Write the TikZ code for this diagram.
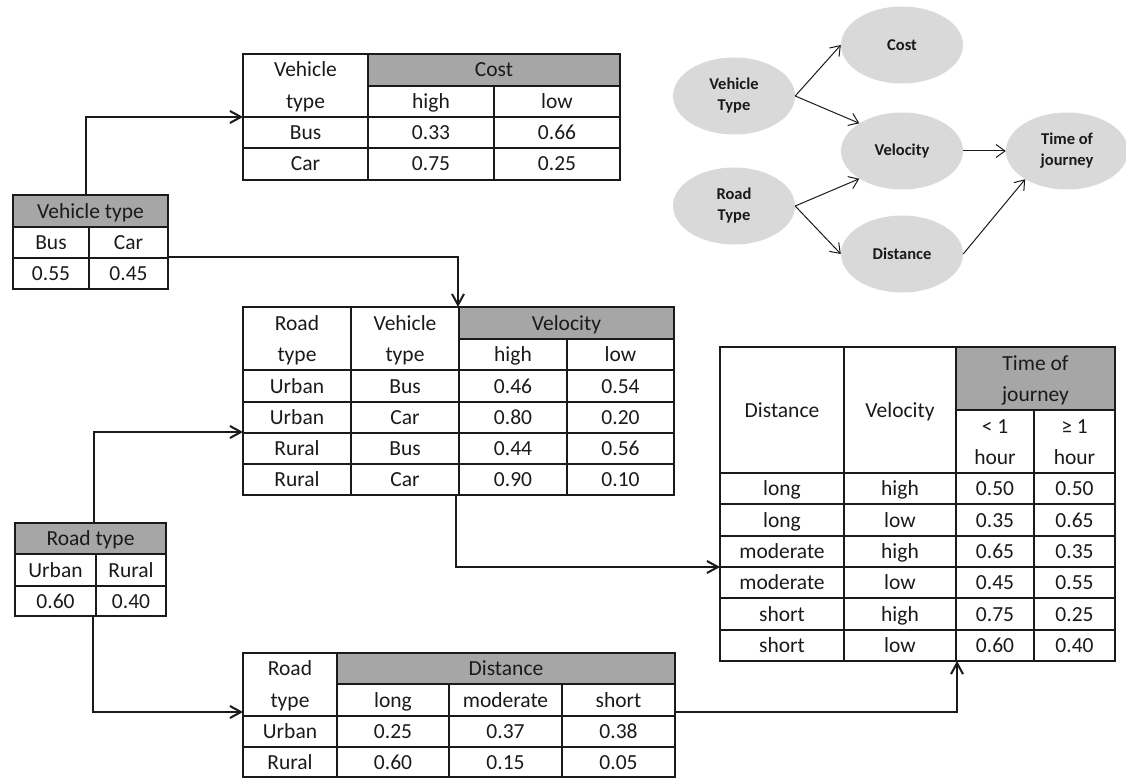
\documentclass[tikz,border=0pt]{standalone}
\usepackage{fontspec}
\setmainfont{Carlito}
\usetikzlibrary{arrows.meta,shapes.geometric}
\definecolor{ink}{HTML}{1A1A1A}
\definecolor{hdr}{HTML}{A6A6A6}
\definecolor{bubble}{HTML}{D9D9D9}
\newcommand{\tabfont}{\fontsize{21.5}{26}\selectfont}
\newcommand{\bubfont}{\fontsize{16.5}{21}\selectfont\bfseries}

\begin{document}
\begin{tikzpicture}[x=1pt,y=-1pt,
  txt/.style={anchor=base,yshift=-7pt,inner sep=0pt,font=\tabfont,text=ink},
  tabline/.style={draw=ink,line width=1.2pt},
  link/.style={ink,line width=2pt,-{Straight Barb[length=11pt,width=12pt]}},
  bub/.style={ellipse,fill=bubble,minimum width=122pt,minimum height=77pt,inner sep=0pt,align=center,font=\bubfont,text=ink},
  dep/.style={ink,line width=1pt,-{Straight Barb[length=9pt,width=13pt]}}]
\useasboundingbox (0,0) rectangle (1126,778);
\node[bub] (vtype) at (734,96) {Vehicle\\Type};\node[bub] (cost) at (902,45) {Cost};
\node[bub] (velo) at (902,151) {Velocity};\node[bub] (rtype) at (734,206) {Road\\Type};
\node[bub] (dist) at (902,254) {Distance};\node[bub] (time) at (1067,151) {Time of\\journey};
\draw[dep] (vtype.east)--(cost.west);\draw[dep] (vtype.east)--(velo.147);
\draw[dep] (rtype.east)--(velo.213);\draw[dep] (rtype.east)--(dist.west);
\draw[dep] (velo.east)--(time.west);\draw[dep] (dist.east)--(time.214);
\fill[hdr] (13,195) rectangle (168,227);
\draw[tabline] (13,195) rectangle (168,289) (13,227)--(168,227) (13,258)--(168,258) (89,227)--(89,289);
\node[txt] (vt-h) at (90.5,211) {Vehicle type};
\node[txt] (vt-bus) at (51,242.5) {Bus};\node[txt] (vt-car) at (128.5,242.5) {Car};
\node[txt] (vt-p1) at (51,273.5) {0.55};\node[txt] (vt-p2) at (128.5,273.5) {0.45};
\fill[hdr] (368,54) rectangle (620,86);
\draw[tabline] (243,54) rectangle (620,180) (368,54)--(368,180) (494,86)--(494,180) (368,86)--(620,86) (243,117)--(620,117) (243,148)--(620,148);
\node[txt] (c-h1) at (305.5,70) {Vehicle};\node[txt] (c-h2) at (305.5,101.5) {type};
\node[txt] (c-h) at (494,70) {Cost};\node[txt] (c-hi) at (431,101.5) {high};\node[txt] (c-lo) at (557,101.5) {low};
\foreach \y/\a/\b/\c [count=\r] in {132.5/Bus/0.33/0.66,164/Car/0.75/0.25}
  {\node[txt] (c\r-a) at (305.5,\y) {\a};\node[txt] (c\r-b) at (431,\y) {\b};\node[txt] (c\r-c) at (557,\y) {\c};}
\fill[hdr] (459,307) rectangle (674,339);
\draw[tabline] (243,307) rectangle (674,495) (351,307)--(351,495) (459,307)--(459,495) (567,339)--(567,495) (459,339)--(674,339);
\foreach \y in {370,402,433,464} \draw[tabline] (243,\y)--(674,\y);
\node[txt] (v-h1) at (297,323) {Road};\node[txt] (v-h2) at (297,354.5) {type};
\node[txt] (v-h3) at (405,323) {Vehicle};\node[txt] (v-h4) at (405,354.5) {type};
\node[txt] (v-h) at (566.5,323) {Velocity};\node[txt] (v-hi) at (513,354.5) {high};\node[txt] (v-lo) at (620.5,354.5) {low};
\foreach \y/\a/\b/\c/\d [count=\r] in {386/Urban/Bus/0.46/0.54,417.5/Urban/Car/0.80/0.20,448.5/Rural/Bus/0.44/0.56,479.5/Rural/Car/0.90/0.10}
  {\node[txt] (v\r-a) at (297,\y) {\a};\node[txt] (v\r-b) at (405,\y) {\b};\node[txt] (v\r-c) at (513,\y) {\c};\node[txt] (v\r-d) at (620.5,\y) {\d};}
\fill[hdr] (15,523) rectangle (166,554);
\draw[tabline] (15,523) rectangle (166,616) (15,554)--(166,554) (15,586)--(166,586) (96,554)--(96,616);
\node[txt] (rt-h) at (90.5,538.5) {Road type};
\node[txt] (rt-u) at (55.5,570) {Urban};\node[txt] (rt-r) at (131,570) {Rural};
\node[txt] (rt-p1) at (55.5,601) {0.60};\node[txt] (rt-p2) at (131,601) {0.40};
\fill[hdr] (337,653) rectangle (675,684);
\draw[tabline] (243,653) rectangle (675,777) (337,653)--(337,777) (449,684)--(449,777) (562,684)--(562,777) (337,684)--(675,684) (243,716)--(675,716) (243,747)--(675,747);
\node[txt] (d-h1) at (290,668.5) {Road};\node[txt] (d-h2) at (290,700) {type};\node[txt] (d-h) at (506,668.5) {Distance};
\node[txt] (d-lg) at (393,700) {long};\node[txt] (d-md) at (505.5,700) {moderate};\node[txt] (d-sh) at (618.5,700) {short};
\foreach \y/\a/\b/\c/\d [count=\r] in {731.5/Urban/0.25/0.37/0.38,762/Rural/0.60/0.15/0.05}
  {\node[txt] (d\r-a) at (290,\y) {\a};\node[txt] (d\r-b) at (393,\y) {\b};\node[txt] (d\r-c) at (505.5,\y) {\c};\node[txt] (d\r-d) at (618.5,\y) {\d};}
\fill[hdr] (956,347) rectangle (1115,410);
\draw[tabline] (720,347) rectangle (1115,661) (844,347)--(844,661) (956,347)--(956,661) (1034,410)--(1034,661) (956,410)--(1115,410);
\foreach \y in {473,504,536,567,598,630} \draw[tabline] (720,\y)--(1115,\y);
\node[txt] (t-h1) at (1035.5,363) {Time of};\node[txt] (t-h2) at (1035.5,394) {journey};
\node[txt] (t-ds) at (782,410) {Distance};\node[txt] (t-vl) at (900,410) {Velocity};
\node[txt] (t-lt) at (995,426) {< 1};\node[txt] (t-lh) at (995,457) {hour};
\node[txt] (t-gt) at (1074.5,426) {≥ 1};\node[txt] (t-gh) at (1074.5,457) {hour};
\foreach \y/\a/\b/\c/\d [count=\r] in {488.5/long/high/0.50/0.50,520/long/low/0.35/0.65,551.5/moderate/high/0.65/0.35,582.5/moderate/low/0.45/0.55,614/short/high/0.75/0.25,645.5/short/low/0.60/0.40}
  {\node[txt] (t\r-a) at (782,\y) {\a};\node[txt] (t\r-b) at (900,\y) {\b};\node[txt] (t\r-c) at (995,\y) {\c};\node[txt] (t\r-d) at (1074.5,\y) {\d};}
\coordinate (vt-up) at (86,195);\coordinate (cost-in) at (243,117);
\coordinate (vt-out) at (168,257);\coordinate (velo-top) at (458,307);
\coordinate (rt-up) at (94,523);\coordinate (velo-in) at (243,432);
\coordinate (rt-down) at (93,616);\coordinate (dist-in) at (243,712);
\coordinate (velo-out) at (456,495);\coordinate (time-in) at (720,567);
\coordinate (dist-out) at (675,712);\coordinate (time-bot) at (957,661);
\draw[link] (vt-up) |- (cost-in);\draw[link] (vt-out) -| (velo-top);
\draw[link] (rt-up) |- (velo-in);\draw[link] (rt-down) |- (dist-in);
\draw[link] (velo-out) |- (time-in);\draw[link] (dist-out) -| (time-bot);
\end{tikzpicture}
\end{document}
